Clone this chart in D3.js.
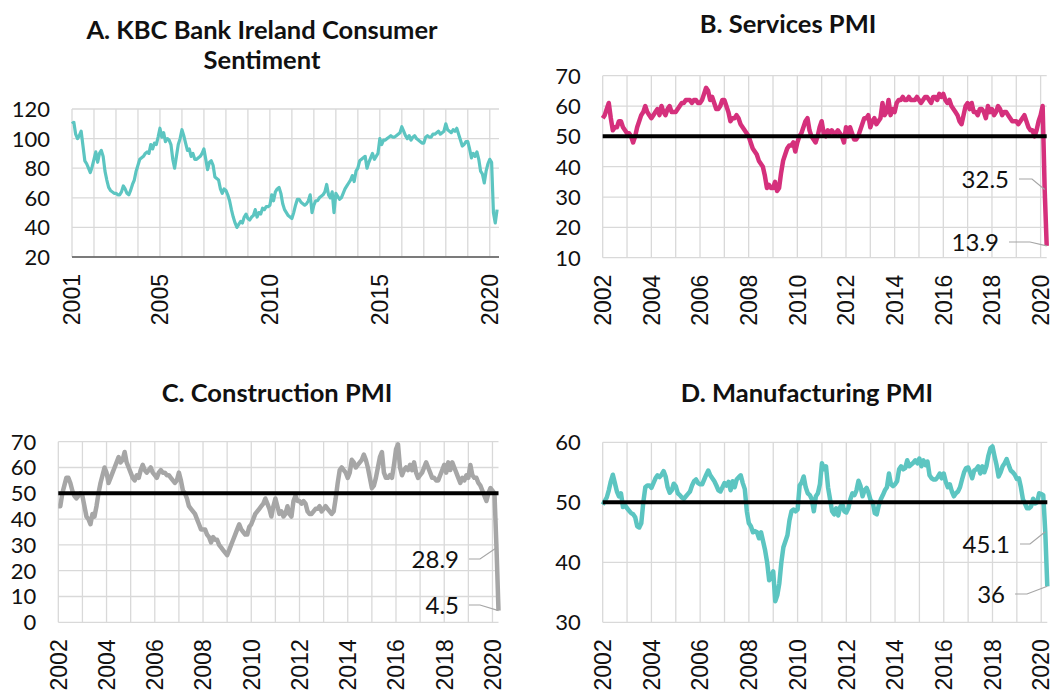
<!DOCTYPE html>
<html>
<head>
<meta charset="utf-8">
<script src="https://cdn.jsdelivr.net/npm/d3@7"></script>
<style>
  html, body { margin: 0; padding: 0; background: #fff; }
  svg { display: block; }
</style>
</head>
<body>
<div id="myViz"></div>
<script>
// Monthly series (value per month, starting January of the start year)
const sentimentStart = 2001;
const sentiment = [
  110, 111, 103, 100, 102, 105, 95, 85, 83, 80, 77, 81,   // 2001
  86, 91, 84, 90, 92, 88, 78, 72, 67, 65, 64, 63,         // 2002
  63, 62, 62, 64, 68, 66, 63, 62, 65, 69, 72, 78,         // 2003
  82, 86, 87, 88, 90, 91, 90, 96, 93, 97, 96, 101,        // 2004
  107, 101, 104, 98, 100, 99, 96, 86, 80, 88, 96, 100,    // 2005
  106, 102, 97, 92, 93, 88, 90, 86, 86, 87, 88, 90,       // 2006
  93, 86, 79, 84, 85, 82, 74, 73, 72, 66, 63, 66,         // 2007
  65, 62, 58, 52, 47, 43, 40, 42, 44, 43, 47, 49,         // 2008
  46, 45, 47, 48, 52, 47, 50, 49, 53, 52, 54, 54,         // 2009
  55, 62, 58, 64, 66, 67, 63, 56, 52, 50, 48, 47,         // 2010
  46, 50, 55, 59, 59, 57, 56, 55, 56, 58, 62, 50,         // 2011
  55, 58, 58, 60, 61, 62, 64, 69, 62, 60, 64, 50,         // 2012
  63, 61, 59, 60, 63, 66, 68, 70, 72, 75, 71, 78,         // 2013
  80, 85, 86, 87, 88, 80, 84, 87, 90, 86, 88, 90,         // 2014
  100, 96, 99, 99, 100, 101, 102, 101, 101, 102, 103, 104,// 2015
  108, 105, 102, 100, 102, 99, 101, 102, 100, 99, 98, 97, // 2016
  97, 101, 102, 101, 101, 103, 103, 104, 105, 103, 104, 105, // 2017
  110, 106, 105, 104, 106, 105, 107, 103, 99, 95, 96, 98, // 2018
  98, 93, 87, 90, 88, 91, 86, 78, 76, 70, 78, 83,         // 2019
  86, 84, 50, 43, 52                                      // 2020
];

const pmiStart = 2002;
const services = [
  56, 57, 59, 61, 56, 52, 53, 53, 55, 55, 53, 52,   // 2002
  51, 51, 50, 48, 50, 53, 55, 57, 58, 60, 58, 57,   // 2003
  56, 57, 58, 59, 57, 60, 58, 57, 59, 60, 58, 58,   // 2004
  58, 59, 60, 61, 61, 62, 62, 62, 61, 62, 62, 61,   // 2005
  61, 62, 64, 66, 65, 62, 63, 61, 59, 59, 60, 62,   // 2006
  62, 60, 58, 55, 56, 56, 57, 56, 54, 53, 52, 51,   // 2007
  50, 48, 46, 45, 44, 42, 41, 40, 37, 33, 34, 33,   // 2008
  33, 35, 32, 33, 38, 42, 44, 46, 47, 47, 48, 45,   // 2009
  48, 50, 51, 53, 55, 56, 52, 50, 49, 48, 50, 53,   // 2010
  55, 51, 50, 52, 51, 52, 51, 51, 52, 51, 50, 48,   // 2011
  53, 50, 53, 51, 49, 49, 50, 52, 54, 56, 56, 57,   // 2012
  53, 55, 56, 54, 55, 56, 61, 57, 58, 62, 57, 59,   // 2013
  58, 61, 62, 62, 63, 62, 62, 63, 62, 62, 62, 63,   // 2014
  62, 61, 62, 63, 63, 62, 61, 63, 63, 62, 64, 63,   // 2015
  64, 62, 61, 62, 60, 59, 58, 57, 55, 54, 57, 60,   // 2016
  61, 59, 61, 58, 58, 57, 59, 59, 58, 56, 60, 58,   // 2017
  59, 57, 58, 60, 59, 57, 58, 58, 57, 56, 55, 55,   // 2018
  55, 54, 55, 56, 57, 55, 53, 52, 52, 50, 52, 55,   // 2019
  57, 60, 32.5, 13.9                                // 2020
];

const construction = [
  45, 45, 50, 53, 56, 56, 54, 51, 49, 48, 49, 50,   // 2002
  49, 45, 41, 40, 38, 42, 41, 45, 50, 54, 57, 60,   // 2003
  58, 54, 56, 58, 60, 62, 64, 62, 63, 66, 62, 60,   // 2004
  58, 56, 55, 57, 56, 59, 61, 59, 58, 59, 60, 58,   // 2005
  57, 56, 58, 59, 58, 58, 57, 57, 56, 55, 54, 55,   // 2006
  58, 55, 51, 50, 48, 45, 44, 43, 42, 40, 38, 36,   // 2007
  36, 36, 34, 33, 31, 33, 32, 32, 30, 29, 28, 27,   // 2008
  26, 28, 30, 32, 34, 36, 38, 36, 35, 34, 34, 37,   // 2009
  38, 40, 42, 43, 44, 45, 46, 48, 46, 44, 41, 45,   // 2010
  48, 45, 42, 43, 41, 42, 45, 42, 41, 47, 49, 47,   // 2011
  47, 46, 47, 46, 43, 42, 42, 43, 44, 44, 45, 43,   // 2012
  44, 45, 44, 43, 42, 43, 48, 54, 59, 60, 59, 58,   // 2013
  56, 58, 63, 62, 60, 61, 62, 63, 65, 63, 60, 56,   // 2014
  52, 53, 56, 60, 64, 66, 58, 56, 56, 57, 56, 61,   // 2015
  67, 69, 60, 57, 59, 60, 59, 61, 59, 62, 58, 56,   // 2016
  57, 58, 60, 62, 60, 58, 56, 56, 55, 55, 57, 59,   // 2017
  61, 58, 62, 59, 62, 60, 58, 56, 54, 56, 55, 57,   // 2018
  56, 61, 57, 56, 56, 54, 53, 51, 49, 47, 50, 52,   // 2019
  51, 50, 28.9, 4.5                                 // 2020
];

const manufacturing = [
  49.6, 50.2, 50.8, 52.0, 53.5, 54.6, 53.2, 51.8, 51.0, 51.5, 49.2, 49.5, // 2002
  49.0, 48.6, 48.2, 48.0, 47.5, 46.0, 45.8, 46.5, 50.0, 52.5, 52.8, 52.8, // 2003
  52.4, 53.2, 54.0, 54.5, 54.2, 54.6, 55.2, 54.3, 52.5, 51.6, 52.0, 53.1, // 2004
  52.7, 51.5, 51.2, 50.8, 50.6, 51.0, 51.4, 51.8, 52.8, 53.5, 53.8, 53.2, // 2005
  53.0, 53.0, 53.8, 54.6, 55.3, 54.5, 54.0, 53.5, 52.8, 52.0, 51.8, 52.5, // 2006
  53.2, 52.8, 53.4, 52.0, 53.5, 52.5, 53.8, 54.2, 54.5, 53.2, 52.2, 48.5, // 2007
  46.5, 46.0, 45.0, 45.2, 45.0, 44.0, 45.0, 43.5, 42.0, 40.0, 37.0, 37.5, // 2008
  38.5, 33.5, 34.5, 36.5, 40.0, 42.5, 43.5, 44.5, 47.0, 48.5, 48.8, 48.5, // 2009
  48.8, 52.8, 53.3, 54.3, 52.5, 51.5, 51.2, 50.5, 48.5, 51.0, 51.5, 53.0, // 2010
  56.5, 55.5, 56.0, 52.5, 50.5, 48.5, 48.0, 49.0, 47.8, 49.2, 49.8, 48.5, // 2011
  48.3, 49.0, 50.5, 51.5, 51.2, 52.0, 53.6, 52.7, 51.0, 52.0, 52.4, 51.5, // 2012
  50.3, 50.0, 48.2, 48.0, 49.5, 50.5, 51.2, 52.0, 52.5, 54.8, 53.0, 52.7, // 2013
  53.0, 53.5, 55.5, 56.0, 55.5, 55.7, 57.0, 56.0, 56.3, 56.6, 57.0, 56.5, // 2014
  57.3, 56.0, 57.0, 56.2, 56.8, 54.5, 54.0, 53.8, 53.8, 54.2, 54.8, 54.0, // 2015
  54.8, 53.4, 52.5, 53.0, 51.8, 51.0, 51.5, 51.8, 52.5, 53.8, 55.0, 55.7, // 2016
  55.8, 55.0, 54.0, 55.3, 55.5, 56.0, 54.8, 56.0, 55.0, 56.0, 57.8, 59.0, // 2017
  59.3, 57.7, 56.2, 54.3, 55.0, 56.0, 56.5, 57.2, 56.2, 55.3, 55.0, 54.6, // 2018
  53.9, 54.0, 52.5, 50.5, 49.8, 49.0, 49.0, 49.3, 50.6, 49.8, 50.0, 51.5, // 2019
  51.4, 51.2, 45.1, 36.0                                                  // 2020
];

// Axis ticks
const sentimentTicks = [20, 40, 60, 80, 100, 120];
const servicesTicks = [10, 20, 30, 40, 50, 60, 70];
const constructionTicks = [0, 10, 20, 30, 40, 50, 60, 70];
const manufacturingTicks = [30, 40, 50, 60];
const sentimentYearLabels = [2001, 2005, 2010, 2015, 2020];
const pmiYearLabels = [2002, 2004, 2006, 2008, 2010, 2012, 2014, 2016, 2018, 2020];

// Labelled points: month index counted from January 2020
const servicesNotes = [{ month: 2, value: 32.5 }, { month: 3, value: 13.9 }];
const constructionNotes = [{ month: 2, value: 28.9 }, { month: 3, value: 4.5 }];
const manufacturingNotes = [{ month: 2, value: 45.1 }, { month: 3, value: 36 }];

const width = 1056, height = 693;
const TEAL = '#5cc5c1', PINK = '#d5307c', GREY = '#a6a6a6';

const svg = d3.select('#myViz').append('svg')
  .attr('width', width)
  .attr('height', height);

const toSeries = (values, start) => values.map((v, i) => ({ t: start + i / 12, v: v }));

const drawPanel = (cfg) => {
  const x = d3.scaleLinear().domain(cfg.xDomain).range([cfg.left, cfg.right]);
  const y = d3.scaleLinear().domain(cfg.yDomain).range([cfg.bottom, cfg.top]);
  const g = svg.append('g');

  // Gridlines
  const years = d3.range(cfg.xDomain[0], 2021);
  g.selectAll('.vgrid').data(years).enter().append('line')
    .attr('x1', d => x(d)).attr('x2', d => x(d))
    .attr('y1', cfg.top).attr('y2', cfg.bottom)
    .attr('stroke', '#d9d9d9').attr('stroke-width', 1.3);
  g.selectAll('.hgrid').data(cfg.ticks).enter().append('line')
    .attr('x1', cfg.left).attr('x2', cfg.right)
    .attr('y1', d => y(d)).attr('y2', d => y(d))
    .attr('stroke', '#d9d9d9').attr('stroke-width', 1.3);

  if (cfg.darkAxis) {
    g.append('line')
      .attr('x1', cfg.left).attr('x2', cfg.right)
      .attr('y1', cfg.bottom).attr('y2', cfg.bottom)
      .attr('stroke', '#595959').attr('stroke-width', 1.5);
  }

  // Y tick labels
  g.selectAll('.ylab').data(cfg.ticks).enter().append('text')
    .attr('x', cfg.left - 22)
    .attr('y', d => y(d))
    .attr('dy', '0.36em')
    .attr('text-anchor', 'end')
    .attr('font-family', 'Lato, sans-serif')
    .attr('font-size', 22)
    .attr('fill', '#111')
    .text(d => d);

  // X tick labels (rotated)
  g.selectAll('.xlab').data(cfg.yearLabels).enter().append('text')
    .attr('transform', d => `translate(${x(d)},${cfg.bottom + 17}) rotate(-90)`)
    .attr('dy', '0.36em')
    .attr('text-anchor', 'end')
    .attr('font-family', '"Liberation Sans", Arial, sans-serif')
    .attr('font-size', 23)
    .attr('fill', '#111')
    .text(d => d);

  // Series
  const line = d3.line().x(d => x(d.t)).y(d => y(d.v));
  g.append('path')
    .datum(toSeries(cfg.values, cfg.start))
    .attr('d', line)
    .attr('fill', 'none')
    .attr('stroke', cfg.color)
    .attr('stroke-width', cfg.lineWidth)
    .attr('stroke-linejoin', 'round');

  // 50 reference line
  if (cfg.refLine != null) {
    g.append('line')
      .attr('x1', cfg.left).attr('x2', cfg.right)
      .attr('y1', y(cfg.refLine)).attr('y2', y(cfg.refLine))
      .attr('stroke', '#000').attr('stroke-width', 4);
  }

  // Data labels with leader lines
  (cfg.notes || []).forEach((n, i) => {
    const px = x(2020 + n.month / 12), py = y(n.value);
    const pos = cfg.notePos[i];
    g.append('polyline')
      .attr('points', `${pos.x + 10},${pos.y} ${pos.knee},${pos.y} ${px},${py}`)
      .attr('fill', 'none')
      .attr('stroke', GREY)
      .attr('stroke-width', 1.2);
    g.append('text')
      .attr('x', pos.x)
      .attr('y', pos.y)
      .attr('dy', '0.36em')
      .attr('text-anchor', 'end')
      .attr('font-family', 'Lato, sans-serif')
      .attr('font-size', 24)
      .attr('fill', '#111')
      .text(n.value);
  });

  // Title
  const title = g.append('text')
    .attr('text-anchor', 'middle')
    .attr('font-family', 'Lato, sans-serif')
    .attr('font-weight', 'bold')
    .attr('font-size', 25.5)
    .attr('fill', '#111');
  cfg.title.forEach((t, i) => {
    title.append('tspan')
      .attr('x', cfg.titleX)
      .attr('y', cfg.titleY + i * 30)
      .text(t);
  });
};

drawPanel({
  values: sentiment, start: sentimentStart, color: TEAL, lineWidth: 3.2,
  left: 72, right: 499, top: 109, bottom: 257,
  xDomain: [2001, 2020.42], yDomain: [20, 120], ticks: sentimentTicks,
  yearLabels: sentimentYearLabels, darkAxis: true,
  title: ['A. KBC Bank Ireland Consumer', 'Sentiment'], titleX: 262, titleY: 39
});

drawPanel({
  values: services, start: pmiStart, color: PINK, lineWidth: 4.5,
  left: 602.7, right: 1046.7, top: 75.7, bottom: 257.7,
  xDomain: [2002, 2020.25], yDomain: [10, 70], ticks: servicesTicks,
  yearLabels: pmiYearLabels, refLine: 50,
  notes: servicesNotes,
  notePos: [{ x: 1009, y: 179, knee: 1032 }, { x: 999, y: 242, knee: 1030 }],
  title: ['B. Services PMI'], titleX: 788, titleY: 33
});

drawPanel({
  values: construction, start: pmiStart, color: GREY, lineWidth: 4.5,
  left: 58.3, right: 498.5, top: 441.7, bottom: 622.3,
  xDomain: [2002, 2020.25], yDomain: [0, 70], ticks: constructionTicks,
  yearLabels: pmiYearLabels, refLine: 50,
  notes: constructionNotes,
  notePos: [{ x: 459, y: 559, knee: 480 }, { x: 459, y: 605, knee: 480 }],
  title: ['C. Construction PMI'], titleX: 277, titleY: 402
});

drawPanel({
  values: manufacturing, start: pmiStart, color: TEAL, lineWidth: 4.5,
  left: 602.7, right: 1047.3, top: 442.3, bottom: 622.3,
  xDomain: [2002, 2020.25], yDomain: [30, 60], ticks: manufacturingTicks,
  yearLabels: pmiYearLabels, refLine: 50,
  notes: manufacturingNotes,
  notePos: [{ x: 1010, y: 544, knee: 1030 }, { x: 1005, y: 594, knee: 1027 }],
  title: ['D. Manufacturing PMI'], titleX: 807, titleY: 402
});
</script>
</body>
</html>
